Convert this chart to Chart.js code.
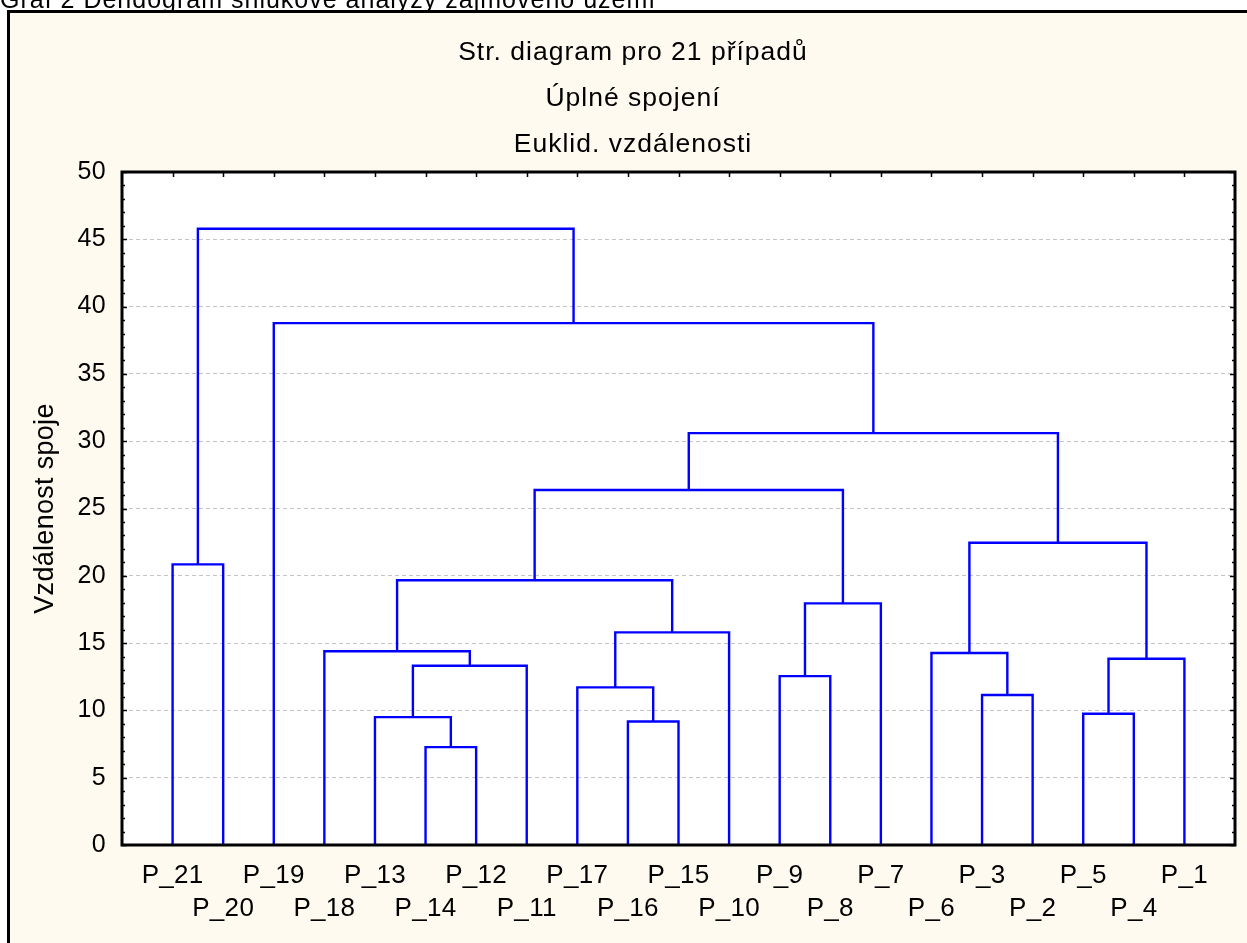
<!DOCTYPE html>
<html><head><meta charset="utf-8">
<script src="https://cdn.jsdelivr.net/npm/chart.js@4/dist/chart.umd.min.js"></script>
<style>html,body{margin:0;padding:0;background:#fff;overflow:hidden}canvas{display:block}</style>
</head><body>
<canvas id="c" width="1247" height="943"></canvas>
<script>
// Leaves in display order (left to right)
const leafLabels = ['P_21','P_20','P_19','P_18','P_13','P_14','P_12','P_11','P_17','P_16','P_15','P_10','P_9','P_8','P_7','P_6','P_3','P_2','P_5','P_4','P_1'];
// Merge steps: node ids 0..20 are leaves, merge k creates node 21+k
const mergeLeft   = [5, 9, 4, 18, 16, 8, 12, 23, 24, 15, 3, 26, 27, 31, 0, 30, 34, 37, 2, 35];
const mergeRight  = [6, 10, 21, 19, 17, 22, 13, 7, 20, 25, 28, 11, 14, 32, 1, 29, 33, 36, 38, 39];
const mergeHeight = [7.27, 9.18, 9.5, 9.75, 11.14, 11.71, 12.55, 13.32, 13.84, 14.26, 14.39, 15.8, 17.95, 19.67, 20.85, 22.46, 26.38, 30.6, 38.77, 45.78];
const yTicks = [0, 5, 10, 15, 20, 25, 30, 35, 40, 45, 50];
const titleLines = ['Str. diagram pro 21 případů', 'Úplné spojení', 'Euklid. vzdálenosti'];
const yAxisTitle = 'Vzdálenost spoje';
const pageHeading = 'Graf 2 Dendogram shlukové analýzy zájmového území';

const FONT = '"Liberation Sans", Arial, sans-serif';
Chart.defaults.font.family = FONT;

// build U-shaped links from merge arrays
const nodeX = leafLabels.map((_, i) => i + 1);
const nodeY = leafLabels.map(() => 0);
const datasets = [];
mergeHeight.forEach((h, k) => {
  const l = mergeLeft[k], r = mergeRight[k];
  datasets.push({
    data: [{x: nodeX[l], y: nodeY[l]}, {x: nodeX[l], y: h}, {x: nodeX[r], y: h}, {x: nodeX[r], y: nodeY[r]}],
    showLine: true, borderColor: '#0000FF', borderWidth: 2.4, pointRadius: 0, fill: false,
    tension: 0, borderJoinStyle: 'miter', borderCapStyle: 'butt'
  });
  nodeX.push((nodeX[l] + nodeX[r]) / 2);
  nodeY.push(h);
});

const deco = {
  id: 'deco',
  beforeDraw(chart) {
    const ctx = chart.ctx, ca = chart.chartArea, W = chart.width, H = chart.height;
    ctx.save();
    ctx.fillStyle = '#ffffff'; ctx.fillRect(0, 0, W, H);
    ctx.fillStyle = '#FEFAF0'; ctx.fillRect(8, 11, W, H);
    ctx.strokeStyle = '#000'; ctx.lineWidth = 3;
    ctx.beginPath(); ctx.moveTo(8.5, H + 5); ctx.lineTo(8.5, 11.5); ctx.lineTo(W + 5, 11.5); ctx.stroke();
    ctx.fillStyle = '#ffffff'; ctx.fillRect(ca.left, ca.top, ca.right - ca.left, ca.bottom - ca.top);
    ctx.fillStyle = '#000'; ctx.font = '25px ' + FONT; ctx.letterSpacing = '1px';
    ctx.textAlign = 'left'; ctx.textBaseline = 'alphabetic';
    ctx.fillText(pageHeading, 0, 8);
    ctx.restore();
    ctx.letterSpacing = '0.3px';
  },
  afterDraw(chart) {
    const ctx = chart.ctx, ca = chart.chartArea;
    const xs = chart.scales.x, ys = chart.scales.y;
    ctx.save();
    ctx.strokeStyle = '#000'; ctx.lineWidth = 3;
    ctx.strokeRect(ca.left, ca.top, ca.right - ca.left, ca.bottom - ca.top);
    ctx.lineWidth = 1.5;
    ctx.beginPath();
    for (let v = 0; v <= 50; v++) {
      const y = Math.round(ys.getPixelForValue(v)) + 0.5;
      const len = v % 5 === 0 ? 5 : 3;
      ctx.moveTo(ca.left, y); ctx.lineTo(ca.left + len, y);
      ctx.moveTo(ca.right, y); ctx.lineTo(ca.right - len, y);
    }
    for (let i = 1; i <= leafLabels.length; i++) {
      const x = Math.round(xs.getPixelForValue(i)) + 0.5;
      ctx.moveTo(x, ca.top); ctx.lineTo(x, ca.top + 5);
    }
    ctx.stroke();
    ctx.fillStyle = '#000'; ctx.font = '26.5px ' + FONT; ctx.letterSpacing = '1px';
    ctx.textAlign = 'center'; ctx.textBaseline = 'alphabetic';
    const baselines = [60, 106, 152];
    titleLines.forEach((t, i) => ctx.fillText(t, 633, baselines[i]));
    ctx.restore();
  }
};

new Chart(document.getElementById('c'), {
  type: 'scatter',
  data: { datasets },
  plugins: [deco],
  options: {
    responsive: false, animation: false, devicePixelRatio: 1,
    layout: { padding: { top: 172, right: 12, left: 0, bottom: 0 } },
    plugins: { legend: { display: false }, tooltip: { enabled: false }, title: { display: false } },
    scales: {
      x: {
        type: 'linear', min: 0, max: leafLabels.length + 1,
        grid: { display: false, drawTicks: false }, border: { display: false },
        afterBuildTicks: a => { a.ticks = leafLabels.map((_, i) => ({ value: i + 1 })); },
        afterFit: s => { s.height = 98; },
        ticks: {
          autoSkip: false, maxRotation: 0, minRotation: 0, padding: 14, color: '#000',
          font: { size: 26, lineHeight: 1.27 },
          callback: (v, i) => i % 2 === 0 ? leafLabels[i] : ['', leafLabels[i]]
        }
      },
      y: {
        min: 0, max: 50,
        afterBuildTicks: a => { a.ticks = yTicks.map(v => ({ value: v })); },
        afterFit: s => { s.width = 122; },
        ticks: { padding: 16, color: '#000', font: { size: 25 } },
        grid: {
          drawTicks: false, lineWidth: 1,
          color: c => (c.tick && (c.tick.value === 0 || c.tick.value === 50)) ? 'rgba(0,0,0,0)' : '#c4c4c4'
        },
        border: { display: false, dash: [4, 3] },
        title: { display: true, text: yAxisTitle, color: '#000', font: { size: 27 }, padding: { top: 29, bottom: 0 } }
      }
    }
  }
});
</script>
</body></html>
